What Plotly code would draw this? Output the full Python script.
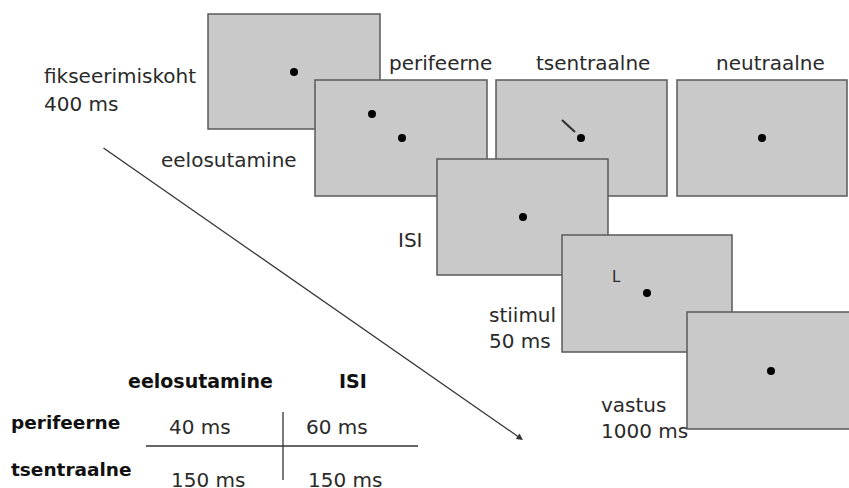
import plotly.graph_objects as go

# ---- diagram content (coordinates in picture units, y grows downward) ----
screen_names = ["fikseerimiskoht", "perifeerne", "tsentraalne", "neutraalne", "ISI", "stiimul", "vastus"]
screen_x0 = [208, 315, 496, 677, 437, 562, 687]
screen_x1 = [380, 487, 667, 847, 608, 732, 858]
screen_y0 = [14, 80, 80, 80, 159, 235, 312]
screen_y1 = [129, 196, 196, 196, 275, 352, 429]

dot_x = [294, 372, 402, 581, 762, 523, 647, 771]
dot_y = [72, 114, 138, 138, 138, 217, 293, 371]

cue_line_x = [562, 575]
cue_line_y = [120, 132]

stim_letter = "L"
stim_letter_xy = [616, 277]

label_texts = ["fikseerimiskoht", "400 ms", "eelosutamine", "perifeerne", "tsentraalne",
               "neutraalne", "ISI", "stiimul", "50 ms", "vastus", "1000 ms"]
label_x = [42, 42, 159, 387, 534, 714, 396, 487, 487, 599, 599]
label_y = [75.5, 103.5, 160, 62.5, 62.5, 62.5, 240, 314.5, 340.5, 404.5, 430.5]

# timing table
table_cols = ["eelosutamine", "ISI"]
table_col_x = [126, 337]
table_rows = ["perifeerne", "tsentraalne"]
table_row_y = [422.5, 469.5]
soa_perifeerne = [40, 60]
soa_tsentraalne = [150, 150]
value_x = [167, 304]
value_y = [427, 480]

time_arrow = [102, 147, 523, 440]
table_hline = [146, 418, 446]
table_vline = [283, 412, 480]

W, H = 849, 488
FONT = "DejaVu Sans"
TXT = "#2a2a2a"

fig = go.Figure()

shapes = []
for x0, x1, y0, y1 in zip(screen_x0, screen_x1, screen_y0, screen_y1):
    shapes.append(dict(type="rect", xref="x", yref="y", x0=x0, x1=x1, y0=y0, y1=y1,
                       fillcolor="#c9c9c9", line=dict(color="#5a5a5a", width=1.5), layer="below"))
shapes.append(dict(type="line", xref="x", yref="y", x0=cue_line_x[0], x1=cue_line_x[1],
                   y0=cue_line_y[0], y1=cue_line_y[1], line=dict(color="#333333", width=2.2)))
shapes.append(dict(type="line", xref="x", yref="y", x0=table_hline[0], x1=table_hline[1],
                   y0=table_hline[2], y1=table_hline[2], line=dict(color="#333333", width=1.3)))
shapes.append(dict(type="line", xref="x", yref="y", x0=table_vline[0], x1=table_vline[0],
                   y0=table_vline[1], y1=table_vline[2], line=dict(color="#333333", width=1.3)))

fig.add_trace(go.Scatter(x=dot_x, y=dot_y, mode="markers",
                         marker=dict(size=8, color="#000000"), hoverinfo="skip", showlegend=False))

ann = []
for t, x, y in zip(label_texts, label_x, label_y):
    ann.append(dict(text=t, x=x, y=y, xref="x", yref="y", xanchor="left", yanchor="middle",
                    showarrow=False, font=dict(family=FONT, size=20, color=TXT)))
ann.append(dict(text=stim_letter, x=stim_letter_xy[0], y=stim_letter_xy[1], xref="x", yref="y",
                xanchor="center", yanchor="middle", showarrow=False,
                font=dict(family=FONT, size=15, color=TXT)))
for t, x in zip(table_cols, table_col_x):
    ann.append(dict(text="<b>%s</b>" % t, x=x, y=380.5, xref="x", yref="y", xanchor="left",
                    yanchor="middle", showarrow=False, font=dict(family=FONT, size=19, color="#111111")))
for t, y in zip(table_rows, table_row_y):
    ann.append(dict(text="<b>%s</b>" % t, x=9, y=y, xref="x", yref="y", xanchor="left",
                    yanchor="middle", showarrow=False, font=dict(family=FONT, size=18.5, color="#111111")))
for row, vals in enumerate([soa_perifeerne, soa_tsentraalne]):
    for col, v in enumerate(vals):
        ann.append(dict(text="%d ms" % v, x=value_x[col] + (2 if row else 0), y=value_y[row],
                        xref="x", yref="y", xanchor="left", yanchor="middle", showarrow=False,
                        font=dict(family=FONT, size=20, color=TXT)))
ann.append(dict(text="", x=time_arrow[2], y=time_arrow[3], ax=time_arrow[0], ay=time_arrow[1],
                xref="x", yref="y", axref="x", ayref="y", showarrow=True, arrowhead=2,
                arrowsize=1, arrowwidth=1.3, arrowcolor="#333333", standoff=0))

fig.update_layout(
    width=W, height=H, margin=dict(l=0, r=0, t=0, b=0),
    paper_bgcolor="white", plot_bgcolor="white", hovermode=False,
    xaxis=dict(range=[0, W], visible=False, fixedrange=True),
    yaxis=dict(range=[H, 0], visible=False, fixedrange=True),
    shapes=shapes, annotations=ann, showlegend=False,
)

fig.write_html(
    "out.html",
    config={"displayModeBar": False},
    post_script="document.body.style.margin='0';document.body.style.overflow='hidden';",
)
